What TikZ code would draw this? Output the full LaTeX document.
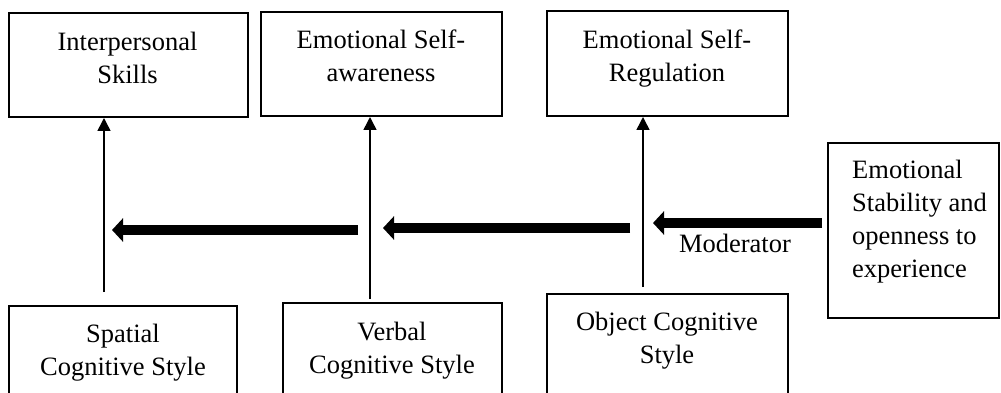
\documentclass[tikz,border=0pt]{standalone}
\usepackage{fontspec}
\setmainfont{Liberation Serif}
\usetikzlibrary{arrows.meta}
\begin{document}
\begin{tikzpicture}[x=1pt,y=-1pt,
  box/.style={draw, line width=2pt, rectangle, inner sep=0pt},
  txt/.style={font=\fontsize{26.5}{33}\selectfont, inner sep=0pt, anchor=base, align=center},
  ltxt/.style={font=\fontsize{26.5}{33}\selectfont, inner sep=0pt, anchor=base west, align=left},
  thinarrow/.style={line width=1.5pt, -{Triangle[length=13pt,width=13pt]}},
  thickarrow/.style={line width=9.5pt, -{Triangle[length=11pt,width=23pt]}}]
\useasboundingbox (0,0) rectangle (1001,393);
% top boxes
\node[box, minimum width=239pt, minimum height=104pt] (ip) at (128.5,65) {};
\node[box, minimum width=241pt, minimum height=104pt] (esa) at (381.5,64) {};
\node[box, minimum width=241pt, minimum height=105pt] (esr) at (667.5,63.5) {};
% right box
\node[box, minimum width=171pt, minimum height=175pt] (es) at (913.5,230.5) {};
% bottom boxes
\node[box, minimum width=228pt, minimum height=110pt] (sp) at (123,361) {};
\node[box, minimum width=219pt, minimum height=110pt] (vb) at (392.5,358) {};
\node[box, minimum width=241pt, minimum height=110pt] (ob) at (667.5,349) {};
% texts (anchor base = baseline of last line)
\node[txt] (tip) at (127.5,84) {Interpersonal\\Skills};
\node[txt] (tesa) at (381,82) {Emotional Self-\\awareness};
\node[txt] (tesr) at (667,82) {Emotional Self-\\Regulation};
\node[ltxt] (tes) at (852,277) {Emotional\\Stability and\\openness to\\experience};
\node[txt] (tsp) at (123,375) {Spatial\\Cognitive Style};
\node[txt] (tvb) at (392,373) {Verbal\\Cognitive Style};
\node[txt] (tob) at (667,363) {Object Cognitive\\Style};
\node[txt] (mod) at (735,252) {Moderator};
% vertical arrows
\coordinate (v1) at (104,292);
\coordinate (v2) at (370,299);
\coordinate (v3) at (643,287);
\draw[thinarrow] (v1) -- (ip.south -| v1);
\draw[thinarrow] (v2) -- (esa.south -| v2);
\draw[thinarrow] (v3) -- (esr.south -| v3);
% thick arrows
\coordinate (h1s) at (358,230); \coordinate (h1e) at (112,230);
\coordinate (h2s) at (630,228); \coordinate (h2e) at (383,228);
\coordinate (h3s) at (822,223); \coordinate (h3e) at (653,223);
\draw[thickarrow] (h1s) -- (h1e);
\draw[thickarrow] (h2s) -- (h2e);
\draw[thickarrow] (h3s) -- (h3e);
\end{tikzpicture}
\end{document}
